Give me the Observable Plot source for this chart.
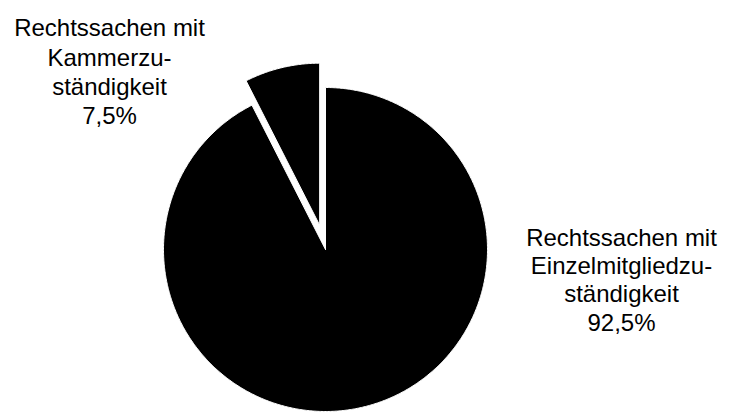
<!DOCTYPE html>
<html>
<head>
<meta charset="utf-8">
<script src="https://cdn.jsdelivr.net/npm/d3@7"></script>
<script src="https://cdn.jsdelivr.net/npm/@observablehq/plot@0.6"></script>
<style>
  html, body { margin: 0; padding: 0; background: #fff; }
  #chart { width: 730px; height: 414px; }
</style>
</head>
<body>
<div id="chart"></div>
<script>
// ---- data ----
const categories = [
  "Rechtssachen mit Einzelmitgliedzuständigkeit",
  "Rechtssachen mit Kammerzuständigkeit"
];
const labelLines = [
  "Rechtssachen mit\nEinzelmitgliedzu-\nständigkeit",
  "Rechtssachen mit\nKammerzu-\nständigkeit"
];
const shares = [92.5, 7.5];
const shareLabels = ["92,5%", "7,5%"];
const exploded = [false, true];

// ---- layout ----
const W = 730, H = 414;
const cx = 325, cy = 249, R = 162;   // pie centre and radius in pixels
const explodePx = 25;

// pie geometry in unit-circle coordinates (12 o'clock, clockwise)
const arcs = d3.pie().sort(null).value(d => d)(shares);
const pts = [];
arcs.forEach((a, i) => {
  const mid = (a.startAngle + a.endAngle) / 2;
  const k = exploded[i] ? explodePx / R : 0;
  const ox = k * Math.sin(mid), oy = k * Math.cos(mid);
  const slice = categories[i];
  pts.push({slice, x: ox, y: oy});
  const n = Math.max(2, Math.ceil((a.endAngle - a.startAngle) / (Math.PI / 360)));
  for (let j = 0; j <= n; j++) {
    const t = a.startAngle + (a.endAngle - a.startAngle) * j / n;
    pts.push({slice, x: ox + Math.sin(t), y: oy + Math.cos(t)});
  }
  pts.push({slice, x: ox, y: oy});
});

const chart = Plot.plot({
  width: W,
  height: H,
  margin: 0,
  x: {domain: [(0 - cx) / R, (W - cx) / R], axis: null},
  y: {domain: [(cy - H) / R, cy / R], axis: null},
  style: {fontFamily: "'Liberation Sans', Arial, sans-serif", background: "#fff"},
  marks: [
    Plot.line(pts, {x: "x", y: "y", z: "slice", fill: "#000", stroke: "#fff", strokeWidth: 1, curve: "linear"}),
    Plot.text([labelLines[1] + "\n" + shareLabels[1]], {
      frameAnchor: "top-left", dx: 109, dy: 15, textAnchor: "middle", lineAnchor: "top",
      fontSize: 24, lineHeight: 1.22, fill: "#000"
    }),
    Plot.text([labelLines[0] + "\n" + shareLabels[0]], {
      frameAnchor: "top-left", dx: 621, dy: 225, textAnchor: "middle", lineAnchor: "top",
      fontSize: 24, lineHeight: 1.18, fill: "#000"
    })
  ]
});
document.getElementById("chart").appendChild(chart);
</script>
</body>
</html>
